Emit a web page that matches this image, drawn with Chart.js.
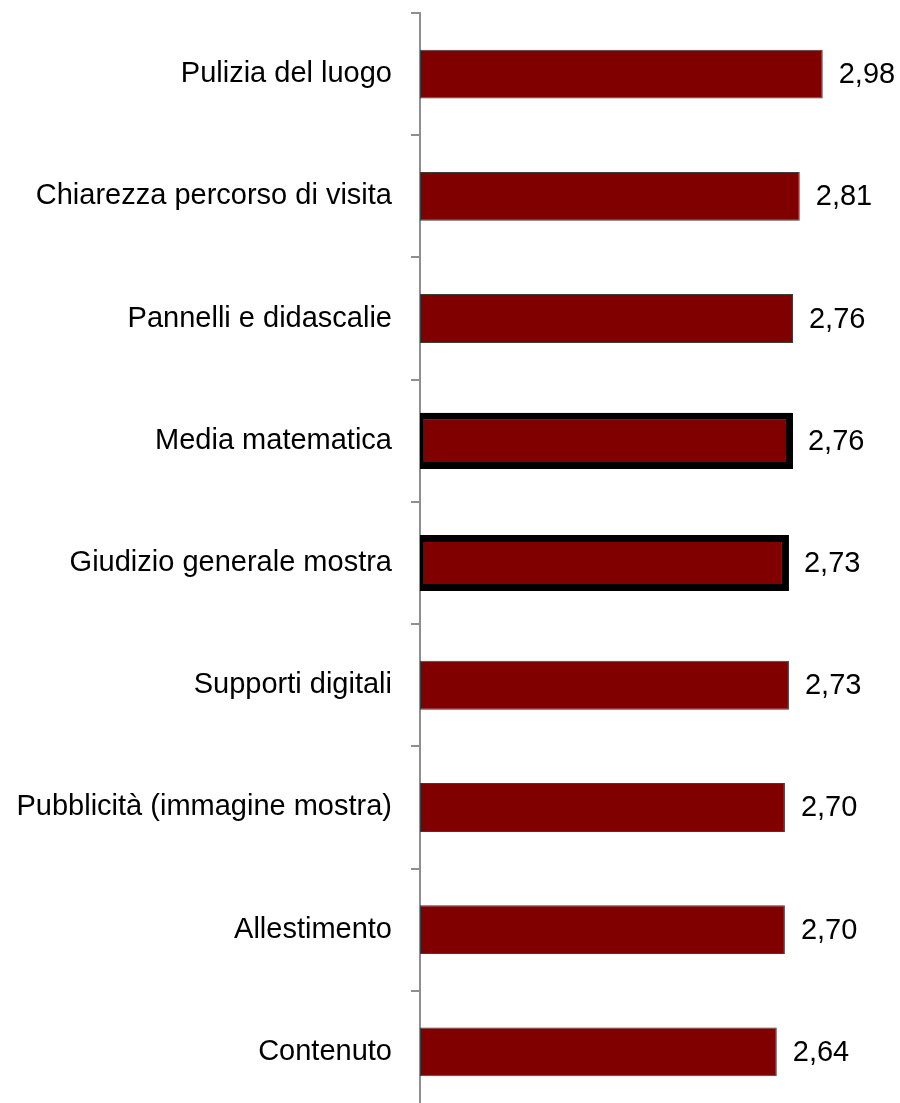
<!DOCTYPE html>
<html>
<head>
<meta charset="utf-8">
<script src="https://cdn.jsdelivr.net/npm/chart.js@4.4.1/dist/chart.umd.min.js"></script>
<style>
  html, body { margin: 0; padding: 0; background: #fff; overflow: hidden; }
  canvas { display: block; }
</style>
</head>
<body>
<canvas id="satChart" width="900" height="1113"></canvas>
<script>
const categories = [
  "Pulizia del luogo",
  "Chiarezza percorso di visita",
  "Pannelli e didascalie",
  "Media matematica",
  "Giudizio generale mostra",
  "Supporti digitali",
  "Pubblicità (immagine mostra)",
  "Allestimento",
  "Contenuto",
];
const scores = [2.98, 2.81, 2.76, 2.76, 2.73, 2.73, 2.70, 2.70, 2.64];
const highlighted = ["Media matematica", "Giudizio generale mostra"];

const normalData = scores.map((v, i) => (highlighted.includes(categories[i]) ? null : v));
const highlightData = scores.map((v, i) => (highlighted.includes(categories[i]) ? v : null));

const FONT = { family: "'Liberation Sans', Arial, sans-serif", size: 29 };

// value labels to the right of each bar
const valueLabels = {
  id: "valueLabels",
  afterDatasetsDraw(chart) {
    const ctx = chart.ctx;
    ctx.save();
    ctx.font = `${FONT.size}px ${FONT.family}`;
    ctx.fillStyle = "#000";
    ctx.textAlign = "left";
    ctx.textBaseline = "middle";
    chart.data.datasets.forEach((ds, di) => {
      const meta = chart.getDatasetMeta(di);
      meta.data.forEach((bar, i) => {
        const v = ds.data[i];
        if (v == null) return;
        const gap = di === 1 ? 15 : 16;
        ctx.fillText(v.toFixed(2).replace(".", ","), bar.x + gap, bar.y + 1);
      });
    });
    ctx.restore();
  },
};

const ctx = document.getElementById("satChart").getContext("2d");
const myChart = new Chart(ctx, {
  type: "bar",
  data: {
    labels: categories,
    datasets: [
      {
        data: normalData,
        backgroundColor: "#800000",
        borderColor: "#3c3c3c",
        borderWidth: 1,
        borderSkipped: false,
        barPercentage: 0.4,
        categoryPercentage: 1,
        grouped: false,
      },
      {
        data: highlightData,
        backgroundColor: "#800000",
        borderColor: "#000",
        borderWidth: { top: 7, right: 7, bottom: 7, left: 3 },
        borderSkipped: false,
        barPercentage: 0.46,
        categoryPercentage: 1,
        grouped: false,
      },
    ],
  },
  options: {
    indexAxis: "y",
    responsive: false,
    animation: false,
    layout: { padding: { top: 13, right: 7, bottom: 0, left: 0 } },
    plugins: {
      legend: { display: false },
      tooltip: { enabled: false },
    },
    scales: {
      x: {
        display: false,
        min: 0,
        max: 3.5,
      },
      y: {
        afterFit(scale) {
          scale.width = 420;
          scale.paddingTop = 0;
          scale.paddingBottom = 0;
        },
        border: { display: true, color: "#8f8f8f", width: 2 },
        grid: {
          offset: true,
          drawOnChartArea: false,
          drawTicks: true,
          tickLength: 9,
          color: "#8f8f8f",
          lineWidth: 2,
        },
        ticks: {
          color: "#000",
          font: FONT,
          padding: 19,
        },
      },
    },
  },
  plugins: [valueLabels],
});
</script>
</body>
</html>
